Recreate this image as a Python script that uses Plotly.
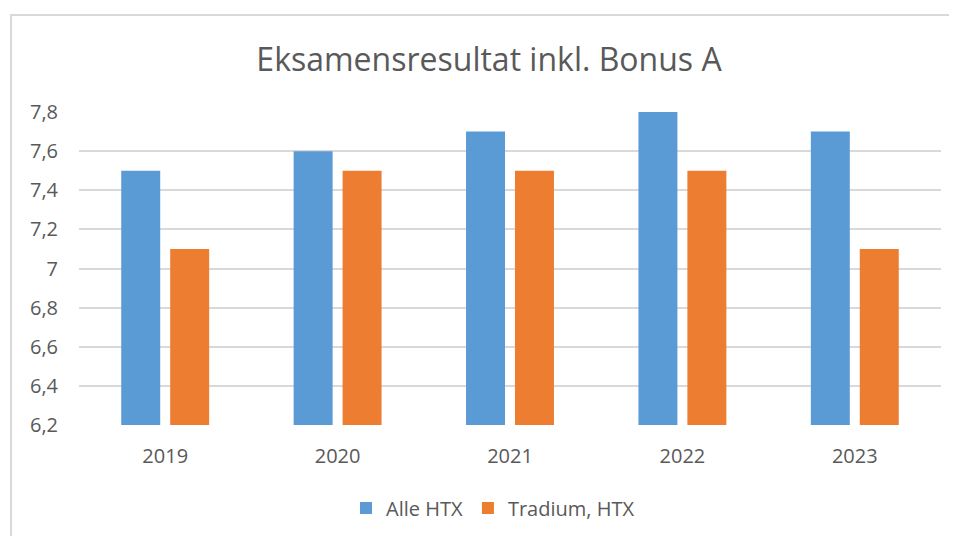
import plotly.graph_objects as go

years = ["2019", "2020", "2021", "2022", "2023"]
alle_htx = [7.5, 7.6, 7.7, 7.8, 7.7]
tradium_htx = [7.1, 7.5, 7.5, 7.5, 7.1]
series_names = ["Alle HTX", "Tradium, HTX"]
title_text = "Eksamensresultat inkl. Bonus A"

# page body has an 8px margin, so figure coords = page coords - 8
OFF = 8
W, H = 957 - OFF, 536 - OFF
ml, mr, mt, mb = 79 - OFF, 16, 112 - OFF, 111
pw = W - ml - mr
ph = H - mt - mb

def px_x(x):
    return (x - OFF - ml) / pw

def px_y(y):
    return (H - mb - (y - OFF)) / ph

font_family = "'Open Sans', 'Noto Sans', sans-serif"
gray = "#595959"

fig = go.Figure()
fig.add_trace(go.Bar(x=years, y=alle_htx, name=series_names[0],
                     marker=dict(color="#5B9BD5", line=dict(width=0))))
fig.add_trace(go.Bar(x=years, y=tradium_htx, name=series_names[1],
                     marker=dict(color="#ED7D31", line=dict(width=0))))

fig.update_layout(
    width=W, height=H,
    margin=dict(l=ml, r=mr, t=mt, b=mb, autoexpand=False),
    paper_bgcolor="white", plot_bgcolor="white",
    separators=",.",
    barmode="group", bargap=0.432, bargroupgap=0.204,
    title=dict(text=title_text, x=px_x(489), xref="paper", xanchor="center",
               y=1 - (60 - OFF) / H, yanchor="middle",
               font=dict(family=font_family, size=32, color=gray)),
    font=dict(family=font_family, color=gray, size=20),
    legend=dict(orientation="h", x=px_x(493), xanchor="center",
                y=px_y(508), yanchor="middle",
                font=dict(size=20, color=gray), itemwidth=30,
                traceorder="normal"),
    showlegend=True,
)
fig.update_yaxes(range=[6.2, 7.8], dtick=0.2, tick0=6.2,
                 showgrid=True, gridcolor="#D9D9D9", gridwidth=2,
                 zeroline=False, showline=False,
                 ticks="outside", ticklen=16, tickcolor="rgba(0,0,0,0)",
                 tickfont=dict(size=20, color=gray))
fig.update_xaxes(showgrid=False, zeroline=False, showline=False,
                 ticks="outside", ticklen=13, tickcolor="rgba(0,0,0,0)",
                 tickfont=dict(size=20, color=gray))

fig.add_shape(type="rect", xref="paper", yref="paper",
              x0=px_x(11), x1=px_x(990), y0=px_y(580), y1=px_y(15),
              line=dict(color="#D9D9D9", width=2), fillcolor="rgba(0,0,0,0)",
              layer="below")

fig.write_html("out.html")
